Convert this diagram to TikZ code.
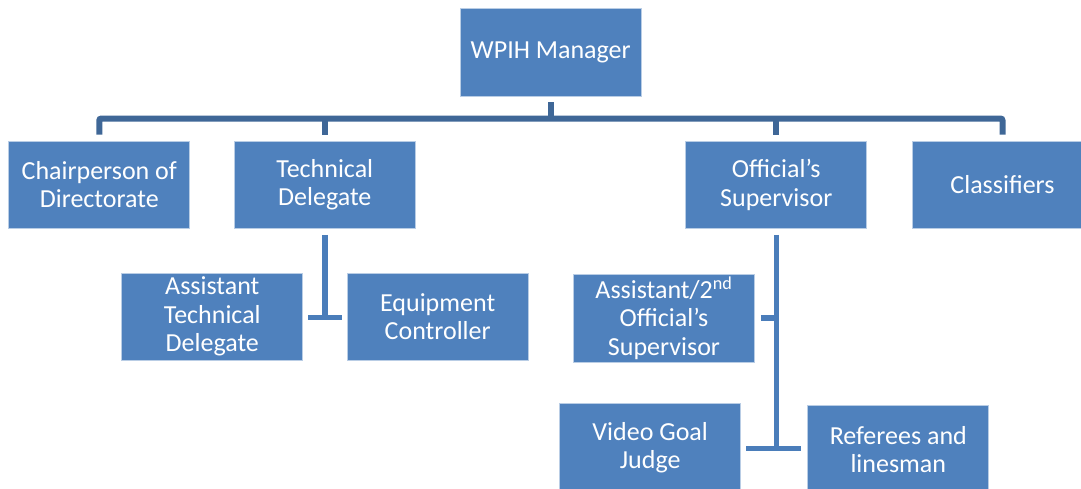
\documentclass[tikz,border=0pt]{standalone}
\usepackage{fontspec}
\setmainfont{Carlito}
\usepackage{tikz}
\definecolor{boxblue}{HTML}{4F81BD}
\definecolor{topline}{HTML}{3F6797}
\definecolor{subline}{HTML}{4A7DBA}

\begin{document}
\begin{tikzpicture}[x=1pt, y=-1pt,
  box/.style={rectangle, fill=boxblue, draw=white!60!boxblue, line width=0.8pt, minimum width=181pt, minimum height=87.5pt, inner sep=2pt, align=center, text=white, font=\fontsize{26}{28.5}\selectfont},
  bar/.style={draw=topline, line width=6pt},
  sub/.style={draw=subline, line width=5.5pt}]
\useasboundingbox (0,0) rectangle (1081,488);
\clip (0,0) rectangle (1081,488);
\fill[white] (0,0) rectangle (1081,488);
\node (mgr) at (550.7,52.3) [box, minimum height=88pt] {WPIH Manager};
\node (chair) at (99.3,184.7) [box] {Chairperson of\\Directorate};
\node (tech) at (324.8,184.7) [box] {Technical\\Delegate};
\node (offs) at (776.3,184.7) [box] {Official's\\Supervisor};
\node (class) at (1002.5,184.7) [box] {Classifiers};
\node (atd) at (212.3,316.7) [box, minimum height=87pt] {Assistant\\Technical\\Delegate};
\node (eqc) at (437.7,316.7) [box, minimum height=87pt] {Equipment\\Controller};
\node (aos) at (664,318) [box, minimum height=88pt] {Assistant/2\textsuperscript{nd}\\Official's\\Supervisor};
\node (vgj) at (650.2,447.5) [box] {Video Goal\\Judge};
\node (ref) at (898.3,449.5) [box] {Referees and\\linesman};
\coordinate (top) at (552,118.5);
\coordinate (low) at (776.3,448.5);
% top level
\draw[bar] ([yshift=-5.5pt]mgr.south) -- (mgr.south |- top);
\draw[bar, rounded corners=2pt] ([yshift=6pt]chair.north) |- (top) -| ([yshift=6pt]class.north);
\draw[bar] ([yshift=6pt]tech.north) -- (tech.north |- top);
\draw[bar] ([yshift=6pt]offs.north) -- (offs.north |- top);
% technical delegate
\draw[sub] ([yshift=-6pt]tech.south) -- ([yshift=-0.8pt]tech.south |- atd.east);
\draw[sub] ([xshift=5pt,yshift=-0.8pt]atd.east) -- ([xshift=-5pt,yshift=-0.8pt]eqc.west);
% official's supervisor
\draw[sub] ([yshift=-6pt]offs.south) -- ([yshift=-2.5pt]offs.south |- low);
\draw[sub] ([xshift=6pt]aos.east) -- (offs.south |- aos.east);
\draw[sub] ([xshift=5pt]vgj.east |- low) -- ([xshift=-6pt]ref.west |- low);
\end{tikzpicture}
\end{document}
